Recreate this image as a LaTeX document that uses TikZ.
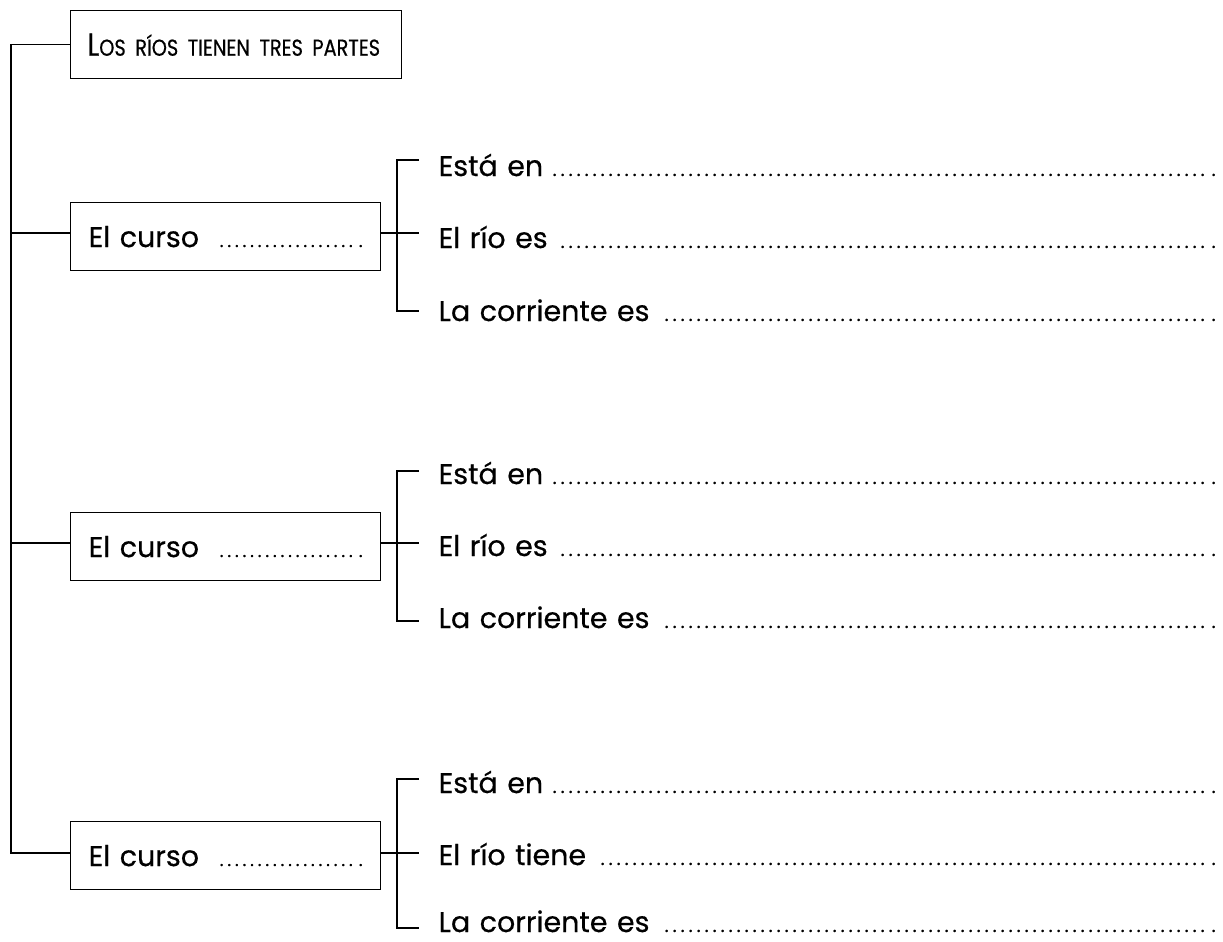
\documentclass[tikz,border=0pt]{standalone}
\usepackage{fontspec}
\setmainfont{Poppins}[FakeBold=0.5]
\newcommand\dotrow[1]{\leaders\hbox to #1{\hss.\hss}\hfill}
\newcommand\rowdots{{\fontsize{19}{19}\selectfont\dotrow{8pt}.}}
\newcommand\boxdots{{\fontsize{18}{18}\selectfont\dotrow{7.6pt}.}}
\begin{document}
\begin{tikzpicture}[x=1pt,y=-1pt,line width=1.3pt,
  box/.style={draw, anchor=north west, minimum height=68pt, inner xsep=18pt, inner ysep=0pt, align=left, font=\fontsize{28.5}{31}\selectfont},
  rowtext/.style={anchor=base west, inner sep=0pt, text width=777pt, text depth=0pt, align=left, font=\fontsize{28.5}{31}\selectfont}]
\useasboundingbox (0,0) rectangle (1223,942);

% boxes
\node[box, text width=305pt, inner xsep=13pt] (title) at (70,10)
  {\hspace{4pt}\addfontfeatures{FakeStretch=0.84}\fontsize{32}{34}\selectfont L\fontsize{23}{28}\selectfont OS RÍOS TIENEN TRES PARTES};
\node[box, text width=274pt] (c1) at (70,202) {El curso\hspace{12pt}\boxdots};
\node[box, text width=274pt] (c2) at (70,512) {El curso\hspace{12pt}\boxdots};
\node[box, text width=274pt] (c3) at (70,821) {El curso\hspace{12pt}\boxdots};

% row texts
\node[rowtext] (r11) at (438,176) {Está en\hspace{6pt}\rowdots};
\node[rowtext] (r12) at (438,248) {El río es\hspace{6pt}\rowdots};
\node[rowtext] (r13) at (438,321) {La corriente es\hspace{10pt}\rowdots};
\node[rowtext] (r21) at (438,484) {Está en\hspace{6pt}\rowdots};
\node[rowtext] (r22) at (438,556) {El río es\hspace{6pt}\rowdots};
\node[rowtext] (r23) at (438,628) {La corriente es\hspace{10pt}\rowdots};
\node[rowtext] (r31) at (438,793) {Está en\hspace{6pt}\rowdots};
\node[rowtext] (r32) at (438,865) {El río tiene\hspace{12pt}\rowdots};
\node[rowtext] (r33) at (438,932) {La corriente es\hspace{10pt}\rowdots};

% connector levels
\coordinate (T) at (11,0);
\coordinate (B) at (397,0);
\coordinate (E) at (419,0);
\coordinate (m1) at (0,233);
\coordinate (m2) at (0,543);
\coordinate (m3) at (0,853);
\coordinate (t11) at (0,160);
\coordinate (t13) at (0,311);
\coordinate (t21) at (0,471);
\coordinate (t23) at (0,621);
\coordinate (t31) at (0,779);
\coordinate (t33) at (0,928);

% trunk
\draw (title.west) -- (T |- title.west) -- (T |- m3) -- (c3.west |- m3);
\draw (c1.west |- m1) -- (T |- m1);
\draw (c2.west |- m2) -- (T |- m2);

% brackets
\draw (E |- t11) -- (B |- t11) -- (B |- t13) -- (E |- t13);
\draw (c1.east |- m1) -- (E |- m1);
\draw (E |- t21) -- (B |- t21) -- (B |- t23) -- (E |- t23);
\draw (c2.east |- m2) -- (E |- m2);
\draw (E |- t31) -- (B |- t31) -- (B |- t33) -- (E |- t33);
\draw (c3.east |- m3) -- (E |- m3);
\end{tikzpicture}
\end{document}
